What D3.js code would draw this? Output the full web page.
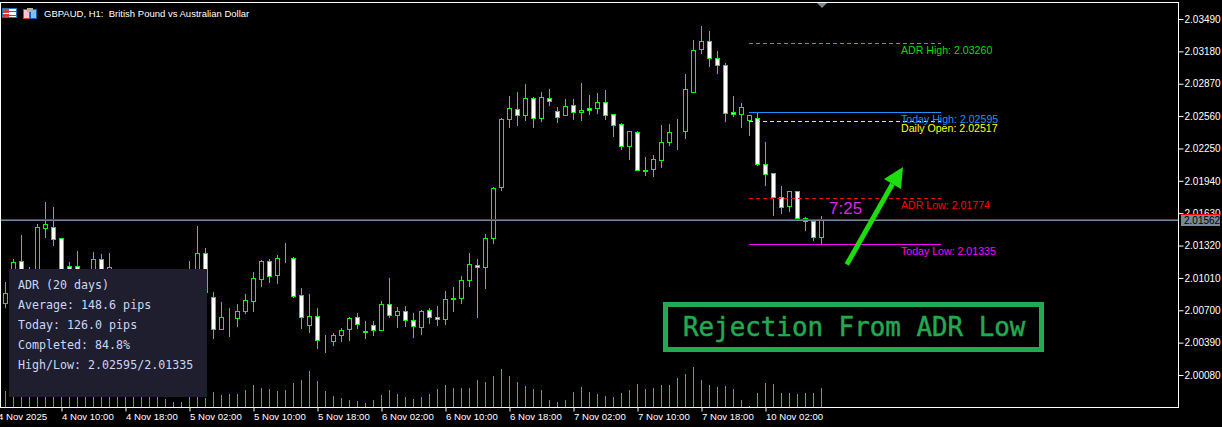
<!DOCTYPE html>
<html><head><meta charset="utf-8">
<script src="https://cdn.jsdelivr.net/npm/d3@7"></script>
<style>
html,body{margin:0;padding:0;background:#000;overflow:hidden}
svg{display:block}
.mt{font-family:"Liberation Sans",sans-serif;font-size:10px;fill:#fff}
.xt{font-family:"Liberation Sans",sans-serif;font-size:9.6px;fill:#fff}
.lv{font-family:"Liberation Sans",sans-serif;font-size:10.6px}
.hd{font-family:"Liberation Sans",sans-serif;font-size:9.5px;fill:#fff;white-space:pre}
</style></head><body><svg id="c" width="1222" height="427"></svg>
<script>
const opens=[2.00769,2.00846,2.01171,2.00942,2.01038,2.01488,2.01498,2.01392,2.01124,2.01124,2.00942,2.00942,2.01191,2.01067,2.00990,2.00846,2.00626,2.00654,2.00683,2.00750,2.00817,2.00971,2.00894,2.00942,2.00942,2.01248,
2.00827,2.00521,2.00635,2.00626,2.00692,2.00788,2.01000,2.01171,2.01038,2.01191,2.01200,2.00846,2.00559,2.00645,2.00405,2.00405,2.00463,2.00521,2.00635,2.00501,2.00559,2.00511,2.00760,2.00654,2.00692,2.00607,2.00540,2.00702,2.00635,2.00616,2.00817,2.00817,2.00990,2.01133,2.01114,2.01392,2.01881,2.02533,2.02628,2.02570,2.02733,2.02542,2.02733,2.02608,2.02570,2.02666,2.02599,2.02637,2.02637,2.02695,2.02580,2.02485,2.02274,2.02408,2.02044,2.02053,2.02139,2.02312,2.02408,2.02418,2.02791,2.03203,2.03279,2.03116,2.03049,2.02599,2.02580,2.02523,2.02542,2.02101,2.02015,2.01785,2.01699,2.01842,2.01584,2.01555,2.01402];
const highs=[2.00971,2.01191,2.01421,2.01114,2.01527,2.01737,2.01689,2.01392,2.01162,2.01268,2.01067,2.01258,2.01239,2.01248,2.01067,2.00942,2.00798,2.00846,2.00894,2.00942,2.00990,2.01038,2.01086,2.01171,2.01507,2.01296,
2.00875,2.00779,2.00721,2.00760,2.00856,2.01067,2.01181,2.01191,2.01229,2.01344,2.01210,2.00913,2.00856,2.00721,2.00463,2.00482,2.00530,2.00635,2.00673,2.00597,2.00597,2.00788,2.01009,2.00731,2.00741,2.00673,2.00702,2.00721,2.00741,2.00884,2.00923,2.01029,2.01248,2.01191,2.01431,2.01881,2.02542,2.02753,2.02791,2.02868,2.02743,2.02791,2.02820,2.02647,2.02724,2.02724,2.02877,2.02762,2.02781,2.02810,2.02580,2.02494,2.02418,2.02418,2.02168,2.02187,2.02475,2.02485,2.02533,2.02963,2.03289,2.03423,2.03375,2.03183,2.03068,2.02753,2.02685,2.02570,2.02595,2.02312,2.02015,2.01890,2.01842,2.01842,2.01594,2.01555,2.01603];
const lows=[2.00731,2.00769,2.00875,2.00846,2.00990,2.01402,2.01325,2.01009,2.00894,2.00913,2.00846,2.00875,2.00894,2.00942,2.00750,2.00626,2.00559,2.00588,2.00607,2.00654,2.00721,2.00798,2.00817,2.00846,2.00846,2.00817,
2.00434,2.00521,2.00454,2.00550,2.00673,2.00692,2.00933,2.00971,2.00961,2.01162,2.00827,2.00530,2.00492,2.00338,2.00300,2.00367,2.00405,2.00415,2.00530,2.00434,2.00463,2.00511,2.00635,2.00540,2.00550,2.00444,2.00473,2.00578,2.00559,2.00569,2.00692,2.00769,2.00933,2.00635,2.00913,2.01344,2.01852,2.02456,2.02475,2.02523,2.02456,2.02513,2.02666,2.02504,2.02570,2.02533,2.02523,2.02580,2.02589,2.02533,2.02370,2.02245,2.02149,2.02044,2.01996,2.01986,2.02072,2.02283,2.02245,2.02350,2.02791,2.03164,2.03040,2.02972,2.02513,2.02561,2.02456,2.02379,2.02091,2.01900,2.01612,2.01631,2.01650,2.01584,2.01469,2.01373,2.01335];
const closes=[2.00865,2.01162,2.00942,2.01038,2.01498,2.01527,2.01383,2.01038,2.00971,2.00990,2.01038,2.01191,2.00990,2.01114,2.00846,2.00702,2.00721,2.00750,2.00817,2.00875,2.00913,2.00875,2.01009,2.01086,2.01248,2.00875,
2.00521,2.00635,2.00635,2.00692,2.00798,2.01009,2.01171,2.01029,2.01200,2.01191,2.00837,2.00635,2.00645,2.00415,2.00405,2.00463,2.00511,2.00626,2.00569,2.00492,2.00511,2.00760,2.00654,2.00692,2.00607,2.00550,2.00692,2.00635,2.00616,2.00808,2.00808,2.00990,2.01143,2.01114,2.01392,2.01871,2.02533,2.02637,2.02570,2.02733,2.02542,2.02743,2.02704,2.02551,2.02657,2.02599,2.02618,2.02618,2.02695,2.02570,2.02475,2.02274,2.02418,2.02044,2.02034,2.02149,2.02312,2.02408,2.02408,2.02820,2.03193,2.03279,2.03116,2.03049,2.02589,2.02580,2.02647,2.02570,2.02101,2.02006,2.01785,2.01689,2.01842,2.01584,2.01555,2.01402,2.01562];
const volumes=[800,750,850,700,950,1100,1000,850,750,800,700,750,850,750,650,700,650,600,550,550,400,250,250,550,650,450,
750,600,650,650,850,1100,950,900,800,850,1200,1350,1800,1300,800,550,450,350,300,200,350,600,850,650,500,400,500,650,900,1100,950,950,950,1350,1250,1550,1900,1550,1250,1050,900,850,350,250,350,750,1000,750,650,550,500,700,850,1150,900,950,1100,1100,1450,1650,2000,1350,1100,1000,1050,900,350,50,700,1200,1150,700,700,650,700,700,950];
const timeTickIdx=[-1,7,15,23,31,39,47,55,63,71,79,87,95];
const timeLabels=["4 Nov 2025","4 Nov 10:00","4 Nov 18:00","5 Nov 02:00","5 Nov 10:00","5 Nov 18:00","6 Nov 02:00","6 Nov 10:00","6 Nov 18:00","7 Nov 02:00","7 Nov 10:00","7 Nov 18:00","10 Nov 02:00"];
const priceTicks=[2.03490,2.03180,2.02870,2.02560,2.02250,2.01940,2.01630,2.01320,2.01010,2.00700,2.00390,2.00080];
const bidPrice=2.01562, askPrice=2.01572;
const levelNames=["ADR High","Today High","Daily Open","ADR Low","Today Low"];
const levelValues=[2.03260,2.02595,2.02517,2.01774,2.01335];
const levelColors=["#00dc00","#1e90ff","#ffff00","#ff0000","#ff00ff"];
const levelDash=["4,3",null,"4,3","4,3",null];
const adrLines=["ADR (20 days)","Average: 148.6 pips","Today: 126.0 pips","Completed: 84.8%","High/Low: 2.02595/2.01335"];

const svg=d3.select("#c");
const x=d3.scaleLinear().domain([0,102]).range([5.5,821.5]);
const y=d3.scaleLinear().domain([2.00080,2.03490]).range([375.5,19.5]);
const v=d3.scaleLinear().domain([0,2000]).range([407,367]);
const py=p=>Math.floor(y(p))+0.5;
const G="#00ff00";
svg.append("rect").attr("width",1222).attr("height",427).attr("fill","#000");

// volumes
svg.append("g").selectAll("line").data(volumes).join("line")
 .attr("x1",(d,i)=>x(i)).attr("x2",(d,i)=>x(i)).attr("y1",407).attr("y2",d=>v(d))
 .attr("stroke","#32c832").attr("stroke-width",1);

// candles
const idx=d3.range(opens.length);
const cg=svg.append("g");
cg.selectAll("line").data(idx).join("line")
 .attr("x1",i=>x(i)).attr("x2",i=>x(i)).attr("y1",i=>py(highs[i])-0.5).attr("y2",i=>py(lows[i])+0.5)
 .attr("stroke",G);
cg.selectAll("rect").data(idx).join("rect")
 .attr("x",i=>x(i)-2).attr("width",4)
 .attr("y",i=>Math.min(py(opens[i]),py(closes[i])))
 .attr("height",i=>Math.abs(py(opens[i])-py(closes[i])))
 .attr("fill",i=>opens[i]>closes[i]?"#fff":"#000").attr("stroke",G).attr("stroke-width",1);

// level lines
const lx0=749,lx1=941;
levelValues.forEach((val,k)=>{
  svg.append("line").attr("x1",lx0).attr("x2",lx1).attr("y1",py(val)).attr("y2",py(val))
   .attr("stroke",levelColors[k]).attr("stroke-dasharray",levelDash[k]);
});
levelValues.forEach((val,k)=>{
  svg.append("text").attr("class","lv").attr("x",901).attr("y",py(val)+10.5)
   .attr("fill",levelColors[k]).text(levelNames[k]+": "+val.toFixed(5));
});

// price lines
svg.append("line").attr("x1",0).attr("x2",1178).attr("y1",py(askPrice)).attr("y2",py(askPrice)).attr("stroke","#ff0000");
svg.append("line").attr("x1",0).attr("x2",1178).attr("y1",py(bidPrice)).attr("y2",py(bidPrice)).attr("stroke","#778899");

// countdown
svg.append("text").attr("x",829).attr("y",214).attr("font-family","Liberation Sans").attr("font-size",17).attr("fill","#e020e8").text("7:25");

// arrow
const head=[[903,167],[884,179],[901,189]];
const tail=[846.8,264.5];
svg.append("line").attr("x1",tail[0]).attr("y1",tail[1]).attr("x2",892.5).attr("y2",184)
 .attr("stroke","#1fdc0f").attr("stroke-width",5);
svg.append("path").attr("d",d3.line()(head)+"Z").attr("fill","#1fdc0f");

// frame
svg.append("rect").attr("x",0.5).attr("y",2.5).attr("width",1178).attr("height",405).attr("fill","none").attr("stroke","#fff");

// axes
const yAxis=d3.axisRight(d3.scaleLinear().domain(y.domain()).range([375,19])).tickValues(priceTicks).tickSize(5).tickPadding(1).tickFormat(d3.format(".5f"));
const ya=svg.append("g").attr("transform","translate(1178.5,0)").call(yAxis);
ya.select(".domain").remove();
ya.selectAll("line").attr("stroke","#fff");
ya.selectAll("text").attr("class","mt").attr("font-family",null).attr("font-size",null).attr("fill",null).attr("x",6);

const xAxis=d3.axisBottom(x).tickValues(timeTickIdx).tickSize(4).tickFormat((d,i)=>timeLabels[i]);
const xa=svg.append("g").attr("transform","translate(0,407.5)").call(xAxis);
xa.select(".domain").remove();
xa.selectAll("line").attr("stroke","#fff");
xa.selectAll("text").attr("class","xt").attr("font-family",null).attr("font-size",null).attr("fill",null)
 .attr("text-anchor","start").attr("x",0).attr("dy",null).attr("y",12.5);

// current price tag
svg.append("rect").attr("x",1181).attr("y",215).attr("width",39).attr("height",11).attr("fill","#778899");
svg.append("line").attr("x1",1181).attr("x2",1220).attr("y1",214.5).attr("y2",214.5).attr("stroke","#ff0000");
svg.append("text").attr("class","mt").style("fill","#000").attr("x",1184).attr("y",224).text(bidPrice.toFixed(5));

// header icons
const ic=svg.append("g");
ic.append("rect").attr("x",2.5).attr("y",8.5).attr("width",14).attr("height",9).attr("fill","#fff").attr("stroke","#2070c0");
ic.append("rect").attr("x",3).attr("y",9).attr("width",6).attr("height",8).attr("fill","#e84040");
[11,13,15].forEach(yy=>{ic.append("line").attr("x1",3).attr("x2",16).attr("y1",yy+.5).attr("y2",yy+.5).attr("stroke",yy==13?"#fff":"#2070c0");});
ic.append("rect").attr("x",23.5).attr("y",9.5).attr("width",6).attr("height",9).attr("fill","#f8c8c8").attr("stroke","#e03030");
ic.append("rect").attr("x",30.5).attr("y",9.5).attr("width",6).attr("height",9).attr("fill","#80c0f0").attr("stroke","#1060b0");
ic.append("rect").attr("x",27).attr("y",8).attr("width",6).attr("height",4).attr("fill","#b0b0b0");
svg.append("text").attr("class","hd").attr("x",44).attr("y",17).text("GBPAUD, H1:  British Pound vs Australian Dollar");

// shift marker
svg.append("path").attr("d","M817 3L827 3L822 8Z").attr("fill","#778899");

// ADR panel
svg.append("rect").attr("x",9).attr("y",269).attr("width",198).attr("height",128).attr("fill","#1e1e2e");
svg.append("g").selectAll("text").data(adrLines).join("text")
 .attr("x",18).attr("y",(d,i)=>289+i*20).attr("font-family","DejaVu Sans Mono").attr("font-size",11.65).attr("fill","#cdd6f4").text(d=>d);

// annotation box
svg.append("rect").attr("x",665.5).attr("y",304.5).attr("width",376).attr("height",45).attr("fill","none").attr("stroke","#22aa50").attr("stroke-width",5);
svg.append("text").attr("x",683).attr("y",336).attr("font-family","DejaVu Sans Mono").attr("font-size",25.85).attr("fill","#22aa50").attr("stroke","#22aa50").attr("stroke-width",0.5).text("Rejection From ADR Low");
</script></body></html>
